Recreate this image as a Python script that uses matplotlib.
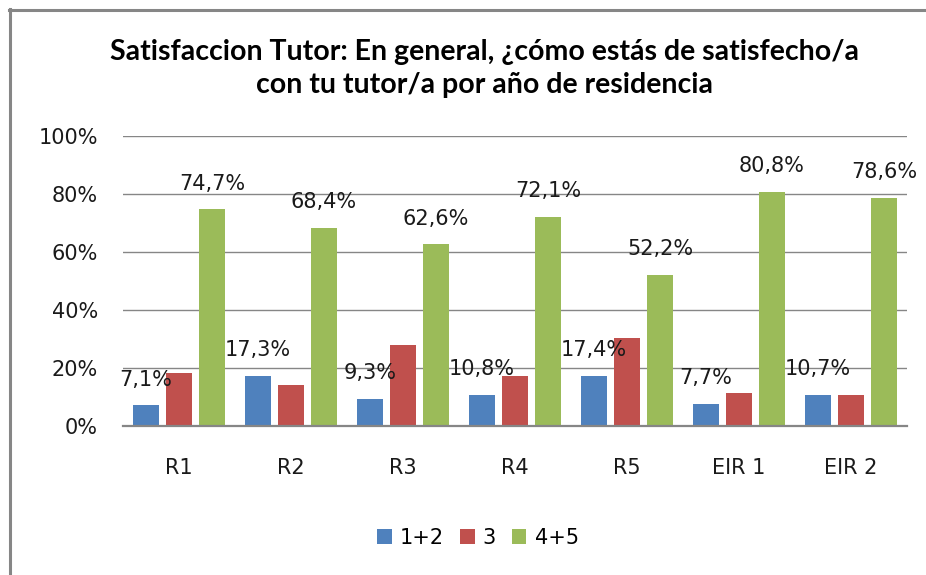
import matplotlib
matplotlib.use("Agg")
import matplotlib.pyplot as plt
from matplotlib.lines import Line2D
from matplotlib.patches import Patch
import numpy as np

categories = ["R1", "R2", "R3", "R4", "R5", "EIR 1", "EIR 2"]
series_names = ["1+2", "3", "4+5"]
v12 = [7.1, 17.3, 9.3, 10.8, 17.4, 7.7, 10.7]
v3 = [18.2, 14.3, 28.1, 17.1, 30.4, 11.5, 10.7]
v45 = [74.7, 68.4, 62.6, 72.1, 52.2, 80.8, 78.6]
colors = ["#4F81BD", "#C0504D", "#9BBB59"]
yticks = [0, 20, 40, 60, 80, 100]
ytick_labels = ["0%", "20%", "40%", "60%", "80%", "100%"]
title = "Satisfaccion Tutor: En general, ¿cómo estás de satisfecho/a\ncon tu tutor/a por año de residencia"

W, H = 926, 575
fig = plt.figure(figsize=(W / 100, H / 100), dpi=100)
ax = fig.add_axes([123 / W, 1 - 426 / H, (907 - 123) / W, (426 - 136) / H])

x = np.arange(len(categories))
width = 0.24
offs = [-0.295, 0.0, 0.295]
all_vals = [v12, v3, v45]
for vals, off, c, name in zip(all_vals, offs, colors, series_names):
    ax.bar(x + off, vals, width, color=c, label=name, zorder=3)

label_font = dict(family="DejaVu Sans", fontsize=15, color="#1a1a1a")
for idx in (0, 2):
    for xi, v in zip(x + offs[idx], all_vals[idx]):
        ax.annotate(f"{v:.1f}%".replace(".", ","), (xi, v), xytext=(0, 18.5),
                    textcoords="offset points", ha="center", va="center",
                    zorder=5, **label_font)

ax.set_xlim(-0.5, len(categories) - 0.5)
ax.set_ylim(0, 100)
ax.set_yticks(yticks)
ax.set_yticklabels(ytick_labels, **label_font)
ax.set_xticks(x)
ax.set_xticklabels(categories, **label_font)
ax.tick_params(axis="both", length=0)
ax.tick_params(axis="y", pad=18)
ax.tick_params(axis="x", pad=23)
ax.yaxis.grid(True, color="#868686", linewidth=1.0, zorder=0)
ax.set_axisbelow(True)
for s in ("left", "right", "top"):
    ax.spines[s].set_visible(False)
ax.spines["bottom"].set_color("#868686")
ax.spines["bottom"].set_linewidth(1.6)
ax.spines["bottom"].set_zorder(4)

fig.text(485 / W, 1 - 68.5 / H, title, ha="center", va="center",
         family="Lato", fontweight="bold", fontsize=20.5, linespacing=1.36,
         color="#000000")

handles = [Patch(facecolor=c, edgecolor="none") for c in colors]
fig.legend(handles, series_names, loc="center", bbox_to_anchor=(478 / W, 1 - 538 / H),
           ncol=3, frameon=False, prop=dict(family="DejaVu Sans", size=15),
           handlelength=0.7, handleheight=0.7, handletextpad=0.4,
           columnspacing=0.75)

# outer frame (partially cropped chart border)
fig.add_artist(Line2D([9.5 / W, 9.5 / W], [0, 1 - 9 / H], transform=fig.transFigure,
                      color="#868686", linewidth=2.2))
fig.add_artist(Line2D([8.5 / W, 1], [1 - 10 / H, 1 - 10 / H], transform=fig.transFigure,
                      color="#868686", linewidth=2.2))

fig.savefig("out.png", dpi=100)
